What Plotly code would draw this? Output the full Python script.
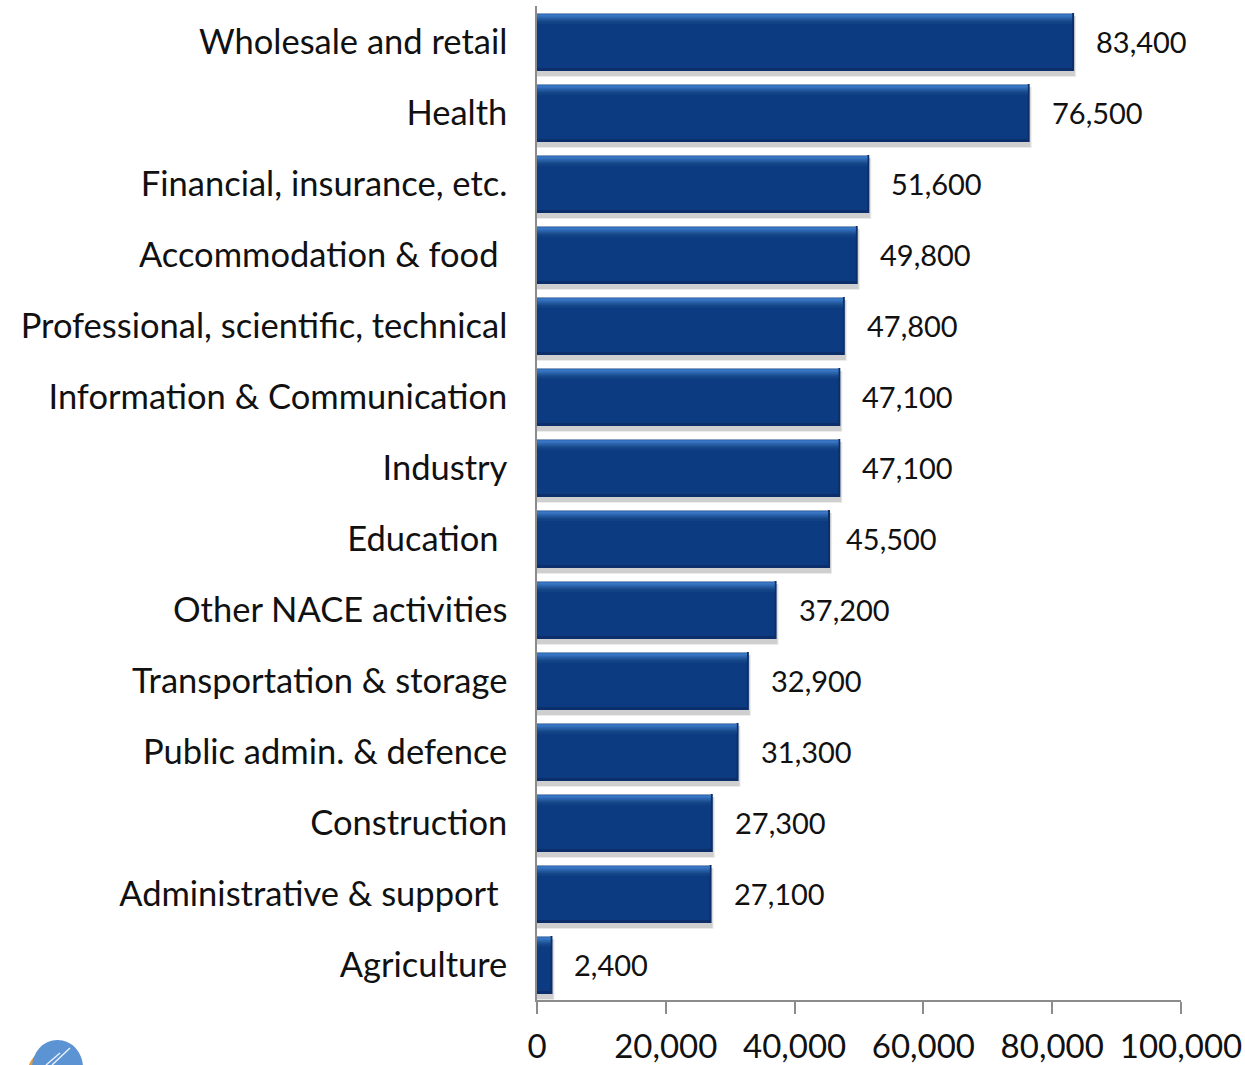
import plotly.graph_objects as go

categories = ["Wholesale and retail", "Health", "Financial, insurance, etc.", "Accommodation & food\u00a0",
              "Professional, scientific, technical", "Information & Communication", "Industry", "Education\u00a0",
              "Other NACE activities", "Transportation & storage", "Public admin. & defence", "Construction",
              "Administrative & support\u00a0", "Agriculture"]
values = [83400, 76500, 51600, 49800, 47800, 47100, 47100, 45500, 37200, 32900, 31300, 27300, 27100, 2400]
tick_values = [0, 20000, 40000, 60000, 80000, 100000]
tick_labels = ["0", "20,000", "40,000", "60,000", "80,000", "100,000"]

FONT = "Lato"
W, H = 1245, 1065
L, R, T, B = 537, 64, 6, 65
BAND = (H - T - B) / len(categories)
U = 100000 / (W - L - R)  # data units per pixel along x


def band(top_px, height_px):
    return dict(offset=(top_px - BAND / 2) / BAND, width=height_px / BAND)


fig = go.Figure()


def layer(xs, top_px, height_px, color):
    fig.add_bar(y=categories, x=xs, orientation="h", marker=dict(color=color, line_width=0),
                hoverinfo="skip", showlegend=False, **band(top_px, height_px))


# soft drop shadow under and right of each bar
bar_top, bar_h = 7, 58
layer([v + 2 * U for v in values], bar_top + 3, bar_h + 3, "#ececec")
layer([v + 1 * U for v in values], bar_top + 3, bar_h + 2, "#cfcfcf")
# full bar body (dark edge along the right and bottom)
layer(values, bar_top, bar_h, "#0c2f6c")
# main face
layer([max(v - 2 * U, U) for v in values], bar_top + 1, bar_h - 4, "#0d3b82")
# top bevel gradient
bevel = ["#8da3bf", "#2f6fbe", "#3a76c3", "#3470bb", "#2c66b0", "#2760a8", "#215799", "#1b4f91", "#164889", "#114285"]
for i, c in enumerate(bevel):
    layer([max(v - 2 * U, U) for v in values], bar_top + i, 1.2, c)

for c, v in zip(categories, values):
    fig.add_annotation(x=v, y=c, text=f"{v:,}", showarrow=False, xanchor="left", yanchor="middle",
                       xshift=14 if c.startswith("Education") else 20, yshift=0,
                       font=dict(family=FONT, size=29, color="#111111"))


def px_x(p):
    return (p - L) / (W - L - R)


def px_y(p):
    return (H - B - p) / (H - T - B)


def circle(x0, x1, y0, y1, color):
    return dict(type="circle", xref="paper", yref="paper", x0=px_x(x0), x1=px_x(x1), y0=px_y(y1), y1=px_y(y0),
                fillcolor=color, line_width=0, layer="above")


def streak(x0, y0, x1, y1):
    return dict(type="line", xref="paper", yref="paper", x0=px_x(x0), x1=px_x(x1), y0=px_y(y0), y1=px_y(y1),
                line=dict(color="rgba(255,255,255,0.85)", width=1.5), layer="above")


fig.update_layout(
    width=W, height=H, barmode="overlay", paper_bgcolor="white", plot_bgcolor="white",
    margin=dict(l=L, r=R, t=T, b=B, autoexpand=False),
    font=dict(family=FONT, color="#111111"),
    xaxis=dict(range=[0, 100000], tickvals=tick_values, ticktext=tick_labels, showgrid=False, zeroline=False,
               showline=True, linecolor="#8c8c8c", linewidth=1.5, ticks="outside", ticklen=12, tickcolor="#8c8c8c",
               tickwidth=1.5, ticklabelstandoff=5, tickfont=dict(family=FONT, size=33, color="#111111")),
    yaxis=dict(type="category", categoryorder="array", categoryarray=categories, autorange=False,
               range=[len(categories) - 0.5, -0.5], showgrid=False, zeroline=False, showline=True,
               linecolor="#8c8c8c", linewidth=1.5, ticks="outside", ticklen=21, tickcolor="rgba(0,0,0,0)",
               tickfont=dict(family=FONT, size=34.5, color="#111111")),
    # logo fragment cropped by the bottom of the picture
    shapes=[
        circle(27, 72, 1050, 1100, "#e8973a"),
        circle(32, 83, 1040, 1095, "#5b93d3"),
        streak(52, 1065, 70, 1048),
        streak(46, 1065, 60, 1053),
    ],
)

fig.write_html("out.html", config=dict(displayModeBar=False),
               post_script="document.body.style.margin='0';document.documentElement.style.overflow='hidden';")
